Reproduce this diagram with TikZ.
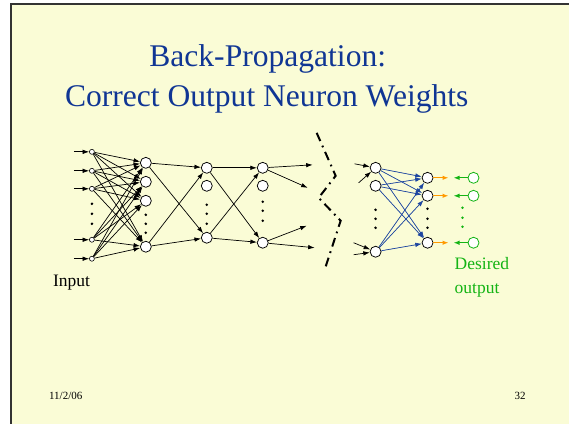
\documentclass[tikz,border=0pt]{standalone}
\usepackage{fontspec}
\setmainfont{Liberation Serif}
\usetikzlibrary{arrows.meta}
\definecolor{slidebg}{RGB}{250,252,214}
\definecolor{titleblue}{RGB}{16,54,148}
\definecolor{wblue}{RGB}{30,70,160}
\definecolor{eorange}{RGB}{255,153,0}
\definecolor{dgreen}{RGB}{20,180,20}
\begin{document}
\begin{tikzpicture}[x=1pt,y=-1pt,
 neuron/.style={circle,draw=black,fill=white,line width=0.75pt,minimum size=11pt,inner sep=0pt},
 innode/.style={circle,draw=black,fill=white,line width=0.6pt,minimum size=5pt,inner sep=0pt},
 target/.style={circle,draw=dgreen,fill=white,line width=0.8pt,minimum size=11pt,inner sep=0pt},
 dotn/.style={circle,fill=black,minimum size=2.8pt,inner sep=0pt},
 gdot/.style={dotn,fill=dgreen},
 arr/.style={-{Latex[length=6.5pt,width=4.5pt]},line width=0.7pt},
 barr/.style={arr,draw=wblue,fill=wblue},
 oarr/.style={-{Latex[length=6pt,width=4.5pt]},line width=1.1pt,draw=eorange,fill=eorange},
 garr/.style={-{Latex[length=6pt,width=4.5pt]},line width=1.1pt,draw=dgreen,fill=dgreen},
 breakline/.style={line width=2pt,dash pattern=on 9pt off 5pt on 1.8pt off 5pt},
 titletext/.style={font=\fontsize{31.6}{38}\selectfont,text=titleblue,inner sep=0pt},
 labeltext/.style={font=\fontsize{17.5}{21}\selectfont,inner sep=0pt},
 foottext/.style={font=\fontsize{11}{13}\selectfont,inner sep=0pt}
]
\fill[white] (0,0) rectangle (570,424);
\fill[slidebg] (11,4) rectangle (570,424);
\draw[line width=1.2pt,color=black!80] (11,424) -- (11,4) -- (570,4);
\useasboundingbox (0,0) rectangle (570,424);

% title
\node[titletext,anchor=base] (title1) at (268,67) {Back-Propagation:};
\node[titletext,anchor=base] (title2) at (267,107) {Correct Output Neuron Weights};

% input layer
\foreach \k/\y in {1/152,2/171,3/189,4/240,5/259}{
  \node[innode] (i\k) at (92,\y) {};
  \coordinate (s\k) at (74,\y);
}
\foreach \k/\y in {1/204,2/214,3/224}{\node[dotn] (idot\k) at (92,\y) {};}

% hidden layer 1
\foreach \k/\y in {1/163,2/182,3/201,4/247}{\node[neuron] (a\k) at (146,\y) {};}
\foreach \k/\y in {1/215,2/224,3/233}{\node[dotn] (adot\k) at (146,\y) {};}

% hidden layer 2
\foreach \k/\y in {1/168,2/186,3/238}{\node[neuron] (b\k) at (207,\y) {};}
\foreach \k/\y in {1/205,2/214,3/224}{\node[dotn] (bdot\k) at (207,\y) {};}

% hidden layer 3
\foreach \k/\y in {1/168,2/186,3/243}{\node[neuron] (c\k) at (263,\y) {};}
\foreach \k/\y in {1/202,2/211,3/221}{\node[dotn] (cdot\k) at (263,\y) {};}

% last hidden layer
\foreach \k/\y in {1/168,2/186,3/252}{\node[neuron] (d\k) at (376,\y) {};}
\foreach \k/\y in {1/210,2/219,3/228}{\node[dotn] (ddot\k) at (376,\y) {};}

% output layer
\foreach \k/\y in {1/178,2/196,3/243}{
  \node[neuron] (e\k) at (428,\y) {};
  \coordinate (oe\k) at (449,\y);
  \node[target] (t\k) at (474,\y) {};
  \coordinate (ge\k) at (454,\y);
}
\foreach \k/\y in {1/209,2/219,3/228}{\node[dotn] (edot\k) at (428,\y) {};}
\foreach \k/\y in {1/208,2/218,3/227}{\node[gdot] (tdot\k) at (463,\y) {};}

% input arrows
\foreach \k in {1,...,5}{\draw[arr] (s\k) -- (i\k);}
% input -> layer 1
\foreach \k in {1,...,5}{\foreach \j in {1,...,4}{\draw[arr] (i\k) -- (a\j);}}
% layer 1 -> layer 2
\foreach \k in {1,4}{\foreach \j in {1,3}{\draw[arr] (a\k) -- (b\j);}}
% layer 2 -> layer 3
\foreach \k in {1,3}{\foreach \j in {1,3}{\draw[arr] (b\k) -- (c\j);}}
% layer 3 outgoing
\coordinate (p1) at (313,165);
\coordinate (p2) at (308,188);
\coordinate (p3) at (307,226);
\coordinate (p4) at (315,248);
\draw[arr] (c1) -- (p1);
\draw[arr] (c1) -- (p2);
\draw[arr] (c3) -- (p3);
\draw[arr] (c3) -- (p4);
% incoming to last hidden layer
\coordinate (q1) at (355,164);
\coordinate (q2) at (359,183);
\coordinate (q3) at (354,243);
\coordinate (q4) at (354,255);
\draw[arr] (q1) -- (d1);
\draw[arr] (q2) -- (d1);
\draw[arr] (q3) -- (d3);
\draw[arr] (q4) -- (d3);
% break line
\coordinate (z1) at (317,133);
\coordinate (z2) at (336,176);
\coordinate (z3) at (319,198);
\coordinate (z4) at (341,221);
\coordinate (z5) at (325,270);
\draw[breakline] (z1) -- (z2) -- (z3) -- (z4) -- (z5);
% output weights (blue)
\foreach \k in {1,2,3}{\foreach \j in {1,2,3}{\draw[barr] (d\k) -- (e\j);}}
% errors
\foreach \k in {1,2,3}{
  \draw[oarr] (e\k) -- (oe\k);
  \draw[garr] (t\k) -- (ge\k);
}

% labels
\node[labeltext,anchor=base west] (inlabel) at (53,287) {Input};
\node[labeltext,anchor=base west,text=dgreen] (des1) at (455,270) {Desired};
\node[labeltext,anchor=base west,text=dgreen] (des2) at (455,294) {output};

% footer
\node[foottext,anchor=base west] (date) at (49,400) {11/2/06};
\node[foottext,anchor=base west] (page) at (515,400) {32};
\end{tikzpicture}
\end{document}
